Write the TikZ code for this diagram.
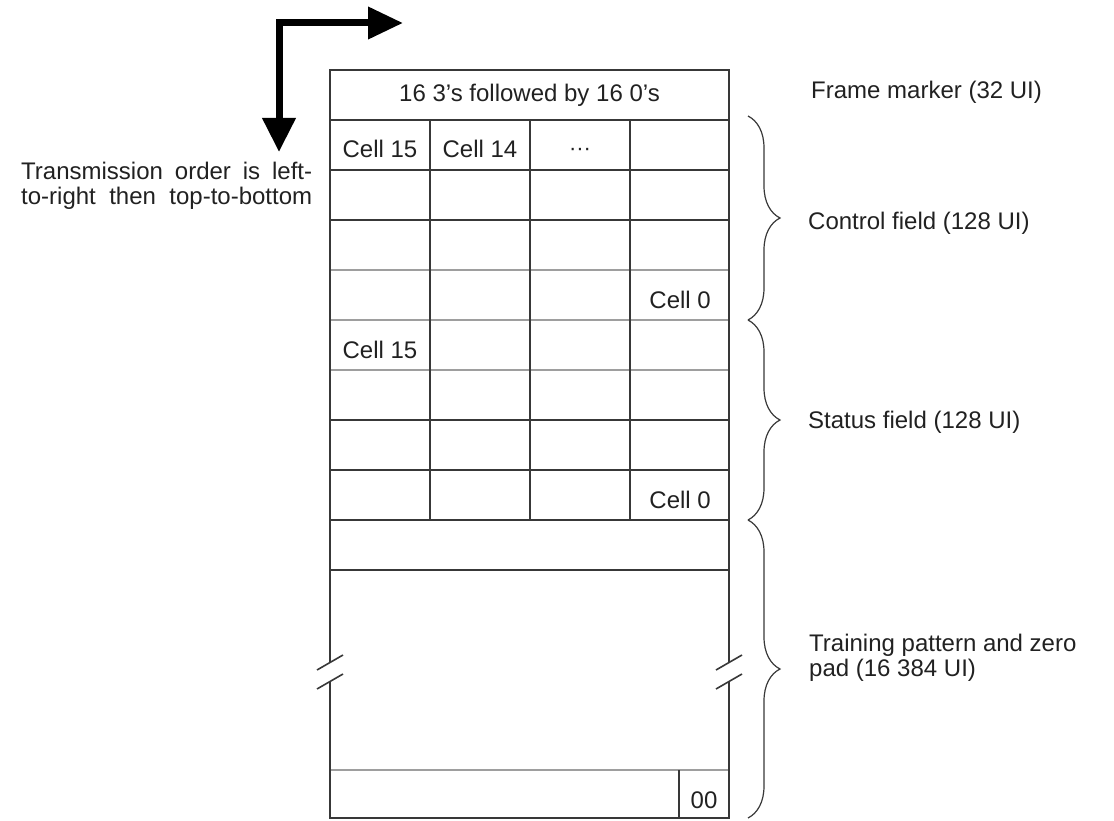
\documentclass[tikz,border=0pt]{standalone}
\usepackage{fontspec}
\setmainfont{Liberation Sans}
\usetikzlibrary{arrows.meta,decorations.pathreplacing}
\definecolor{ink}{gray}{0.13}
\definecolor{rule}{gray}{0.22}
\definecolor{faint}{gray}{0.62}
\newcommand{\fullline}[1]{\makebox[291pt][s]{#1}}
\tikzset{
  rl/.style={draw=rule, line width=1.6pt},
  rlf/.style={draw=faint, line width=1.6pt},
  cell/.style={font=\fontsize{24}{25}\selectfont, text=ink, inner sep=0pt, anchor=base},
  lbl/.style={font=\fontsize{24}{25}\selectfont, text=ink, inner sep=0pt, anchor=base west, align=left},
  brc/.style={decorate, decoration={brace, amplitude=32pt}, draw=rule, line width=1.2pt},
  order/.style={{Triangle[length=34pt,width=32pt]}-{Triangle[length=35pt,width=31pt]}, line width=7pt, draw=black},
}
\begin{document}
\begin{tikzpicture}[x=1pt, y=-1pt]
  \useasboundingbox (0,0) rectangle (1114,821);
  % transmission order arrow
  \coordinate (bend) at (279,23);
  \coordinate (downtip) at (279,152);
  \coordinate (righttip) at (403,23);
  \draw[order] (downtip) -- (bend) -- (righttip);
  \node[lbl, anchor=west] (ord) at (21,186)
       {\fullline{Transmission order is left-}\\\fullline{to-right then top-to-bottom}};

  % the frame
  \foreach \y in {120,170,220,420,470,520,570} \draw[rl] (330,\y) -- (729,\y);
  \foreach \y in {270,320,370,770} \draw[rlf] (330,\y) -- (729,\y);
  \foreach \x in {430,530,630} \draw[rl] (\x,120) -- (\x,520);
  \draw[rl] (679,770) -- (679,818);
  \draw[rl] (330,662) -- (330,70) -- (729,70) -- (729,662);
  \draw[rl] (330,681) -- (330,818) -- (729,818) -- (729,681);
  \foreach \x in {330,729} {
    \draw[rl] (\x-13,670) -- (\x+13,655);
    \draw[rl] (\x-13,689) -- (\x+13,674);
  }

  \node[cell] (mark) at (529.5,102) {16 3's followed by 16 0's};
  \node[cell] (c15a) at (380,158) {Cell 15};
  \node[cell] (c14a) at (480,158) {Cell 14};
  \node[cell, font=\fontsize{22}{22}\selectfont] (more) at (580,156) {···};
  \node[cell, anchor=base east] (c0a) at (711,308) {Cell 0};
  \node[cell] (c15b) at (380,358) {Cell 15};
  \node[cell, anchor=base east] (c0b) at (711,508) {Cell 0};
  \node[cell] (pad) at (704,808) {00};

  % braces and field labels
  \draw[brc] (748,116) -- (748,320);
  \draw[brc] (748,320) -- (748,520);
  \draw[brc] (748,520) -- (748,818);
  \node[lbl] (fm) at (811,99) {Frame marker (32 UI)};
  \node[lbl] (cf) at (808,230) {Control field (128 UI)};
  \node[lbl] (sf) at (808,428) {Status field (128 UI)};
  \node[lbl, anchor=west] (tp) at (809,658) {Training pattern and zero\\pad (16 384 UI)};
\end{tikzpicture}
\end{document}
